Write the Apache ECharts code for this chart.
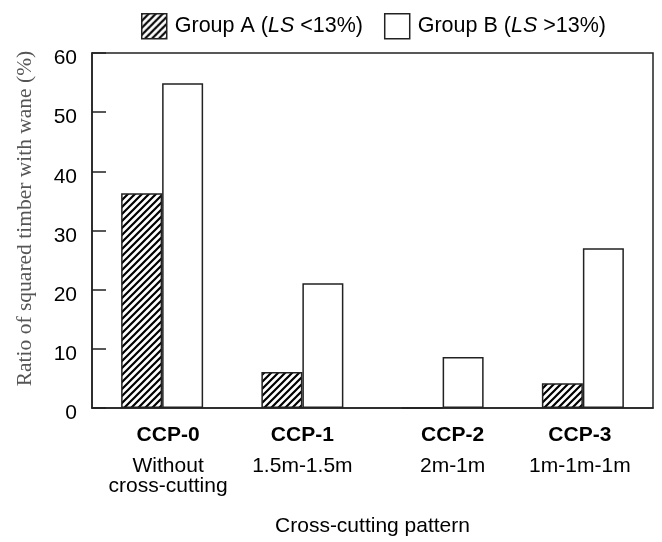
<!DOCTYPE html>
<html>
<head>
<meta charset="utf-8">
<script src="https://cdn.jsdelivr.net/npm/echarts@6/dist/echarts.min.js"></script>
<style>
html,body{margin:0;padding:0;background:#fff;}
#chart{width:662px;height:542px;}
</style>
</head>
<body>
<div id="chart"></div>
<script>
// ---- data ----
var categories = ['CCP-0', 'CCP-1', 'CCP-2', 'CCP-3'];
var patternLines = [['Without', 'cross-cutting'], ['1.5m-1.5m'], ['2m-1m'], ['1m-1m-1m']];
var seriesNames = ['Group A (LS <13%)', 'Group B (LS >13%)'];
var groupA = [36.3, 6.1, 0, 4.2];
var groupB = [54.9, 21.1, 8.6, 27.0];
var yTicks = [0, 10, 20, 30, 40, 50, 60];
var yAxisName = 'Ratio of squared timber with wane (%)';
var xAxisName = 'Cross-cutting pattern';

// ---- hatch pattern ----
function makeHatch() {
  var s = 7;
  var c = document.createElement('canvas');
  c.width = s; c.height = s;
  var ctx = c.getContext('2d');
  ctx.fillStyle = '#fff';
  ctx.fillRect(0, 0, s, s);
  ctx.strokeStyle = '#000';
  ctx.lineWidth = 2.2;
  ctx.beginPath();
  ctx.moveTo(-1, s + 1); ctx.lineTo(s + 1, -1);
  ctx.moveTo(-1, 1); ctx.lineTo(1, -1);
  ctx.moveTo(s - 1, s + 1); ctx.lineTo(s + 1, s - 1);
  ctx.stroke();
  return c;
}
var hatch = { image: makeHatch(), repeat: 'repeat' };

var chart = echarts.init(document.getElementById('chart'), null, { renderer: 'canvas' });
var font = 'Liberation Sans, Arial, sans-serif';

// small per-label horizontal nudges (style only)
var labelNudge = [6, 0, 10, -3];
var xData = categories.map(function (c, i) {
  var d = labelNudge[i];
  return {
    value: c,
    textStyle: { padding: d >= 0 ? [0, 0, 0, 2 * d] : [0, -2 * d, 0, 0] }
  };
});

var option = {
  animation: false,
  backgroundColor: '#fff',
  textStyle: { fontFamily: font },
  legend: {
    left: 141,
    top: 13,
    padding: 0,
    itemWidth: 25,
    itemHeight: 25,
    itemGap: 21,
    icon: 'rect',
    itemStyle: { borderColor: '#222', borderWidth: 1.5 },
    formatter: function (name) {
      return '{n|' + name.replace('LS', '}{i|LS}{n|') + '}';
    },
    textStyle: {
      color: '#000',
      padding: [0, 0, 0, 3],
      rich: {
        n: { fontSize: 21.5, fontFamily: font, color: '#000' },
        i: { fontSize: 21.5, fontFamily: font, fontStyle: 'italic', color: '#000' }
      }
    },
    data: seriesNames
  },
  grid: {
    left: 92,
    right: 9,
    top: 53,
    bottom: 130,
    show: true,
    borderColor: '#222',
    borderWidth: 1.5,
    containLabel: false
  },
  xAxis: {
    type: 'category',
    data: xData,
    axisTick: { show: false },
    axisLine: { lineStyle: { color: '#222', width: 1.5 } },
    axisLabel: {
      margin: 7,
      interval: 0,
      formatter: function (val, idx) {
        var lines = patternLines[idx];
        var s = '{b|' + val + '}\n{n|' + lines[0] + '}';
        for (var k = 1; k < lines.length; k++) s += '\n{m|' + lines[k] + '}';
        return s;
      },
      rich: {
        b: { fontSize: 21, fontWeight: 'bold', fontFamily: font, color: '#000', lineHeight: 41 },
        n: { fontSize: 21, fontFamily: font, color: '#000', lineHeight: 20 },
        m: { fontSize: 21, fontFamily: font, color: '#000', lineHeight: 20 }
      }
    },
    name: xAxisName,
    nameLocation: 'middle',
    nameGap: 108,
    nameTextStyle: { fontSize: 21, fontFamily: font, color: '#000' }
  },
  yAxis: {
    type: 'value',
    min: yTicks[0],
    max: yTicks[yTicks.length - 1],
    interval: yTicks[1] - yTicks[0],
    splitLine: { show: false },
    axisLine: { show: true, lineStyle: { color: '#222', width: 1.5 } },
    axisTick: { show: true, inside: true, length: 14, lineStyle: { color: '#222', width: 1.5 } },
    axisLabel: {
      margin: 15, fontSize: 21, fontFamily: font, color: '#000',
      verticalAlign: 'top', lineHeight: 11
    },
    name: yAxisName,
    nameLocation: 'middle',
    nameGap: 56,
    nameTextStyle: {
      fontSize: 21.5,
      fontFamily: 'Liberation Serif, Times New Roman, serif',
      color: '#555',
      padding: [0, 0, 0, 24]
    }
  },
  series: [
    {
      name: seriesNames[0],
      type: 'bar',
      data: groupA,
      barWidth: 41,
      barGap: '0%',
      itemStyle: { color: hatch, borderColor: '#222', borderWidth: 1.5 }
    },
    {
      name: seriesNames[1],
      type: 'bar',
      data: groupB,
      barWidth: 41,
      barGap: '0%',
      itemStyle: { color: '#fff', borderColor: '#222', borderWidth: 1.5 }
    }
  ]
};
chart.setOption(option);
</script>
</body>
</html>
